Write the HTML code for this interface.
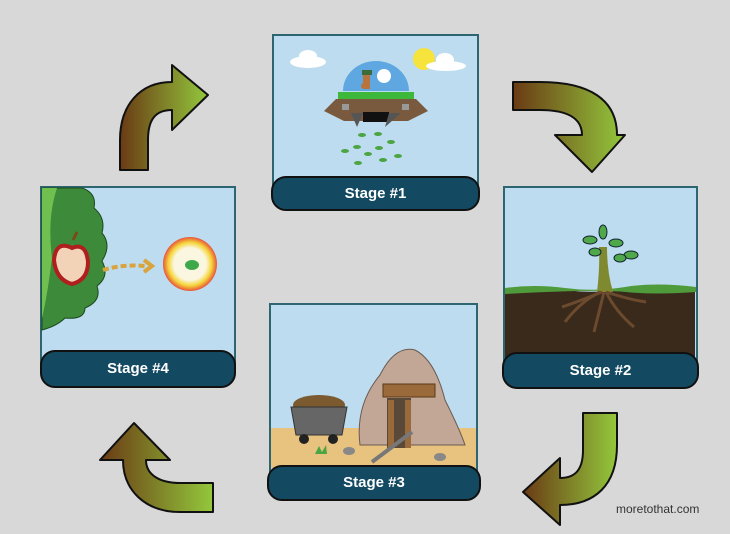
<!DOCTYPE html>
<html><head><meta charset="utf-8"><style>
html,body{margin:0;padding:0}
body{width:730px;height:534px;background:#d8d8d8;position:relative;overflow:hidden;font-family:"Liberation Sans",sans-serif}
.p{position:absolute;background:#bddcef;border:2px solid #2d6670;box-sizing:border-box}
.b{position:absolute;background:#134a62;border:2px solid #111;border-radius:15px;box-sizing:border-box;color:#fff;font-weight:bold;font-size:15px;text-align:center}
svg{position:absolute;left:0;top:0}
</style></head><body>
<div class="p" style="left:272px;top:34px;width:207px;height:160px"></div>
<div class="p" style="left:503px;top:186px;width:195px;height:185px"></div>
<div class="p" style="left:269px;top:303px;width:209px;height:180px"></div>
<div class="p" style="left:40px;top:186px;width:196px;height:185px"></div>
<svg width="730" height="534" viewBox="0 0 730 534">
<defs>
<linearGradient id="g" x1="0" y1="0" x2="1" y2="0"><stop offset="0" stop-color="#6a3a14"/><stop offset="1" stop-color="#93c83c"/></linearGradient>
<radialGradient id="sd" cx="0.5" cy="0.5" r="0.5"><stop offset="0.6" stop-color="#fbf6e0"/><stop offset="0.8" stop-color="#f5d63a"/><stop offset="1" stop-color="#e8543a"/></radialGradient>
</defs>
<!-- Stage 1 -->
<ellipse cx="308" cy="62" rx="18" ry="6" fill="#fff"/><ellipse cx="308" cy="56" rx="9" ry="6" fill="#fff"/>
<circle cx="424" cy="59" r="11" fill="#f6e33c"/>
<ellipse cx="446" cy="66" rx="20" ry="5" fill="#fff"/><ellipse cx="445" cy="60" rx="9" ry="7" fill="#fff"/>
<path d="M343,91 A33,30 0 0 1 409,91 Z" fill="#5fa7e0"/>
<rect x="362" y="70" width="10" height="5" fill="#3d6b3a"/>
<path d="M363,75 h7 v14 h-7 q-4,-3 0,-6 z" fill="#b8743c"/>
<circle cx="384" cy="76" r="7" fill="#fff"/>
<path d="M338,92 h76 v7 h-76z" fill="#3db83b"/>
<path d="M336,99 h80 l12,12 l-20,10 h-64 l-20,-10z" fill="#7a5a3e"/>
<rect x="342" y="104" width="7" height="6" fill="#999"/><rect x="402" y="104" width="7" height="6" fill="#999"/>
<path d="M363,112 h26 v10 h-26z" fill="#111"/>
<path d="M351,113 l12,0 l-6,14z M389,113 l12,0 l-16,14z" fill="#555"/>
<g fill="#4aa542">
<ellipse cx="362" cy="135" rx="4" ry="2"/><ellipse cx="378" cy="134" rx="4" ry="2"/><ellipse cx="391" cy="142" rx="4" ry="2"/>
<ellipse cx="357" cy="147" rx="4" ry="2"/><ellipse cx="379" cy="148" rx="4" ry="2"/><ellipse cx="345" cy="151" rx="4" ry="2"/>
<ellipse cx="368" cy="154" rx="4" ry="2"/><ellipse cx="398" cy="156" rx="4" ry="2"/><ellipse cx="383" cy="160" rx="4" ry="2"/><ellipse cx="358" cy="163" rx="4" ry="2"/>
</g>
<!-- Stage 2 -->
<path d="M505,290 q30,-4 60,0 t60,-1 t70,0 V372 H505Z" fill="#3a2a1c"/>
<path d="M505,288 q30,-4 60,0 t60,-1 t71,0 v5 q-40,3 -70,0 t-121,2z" fill="#4f9a3a"/>
<path d="M597,292 q3,-25 2,-45 l8,0 q0,25 6,45z" fill="#7f8a30"/>
<path d="M600,292 q-20,10 -35,30 M604,292 q-5,20 -10,40 M606,292 q10,20 28,35 M606,292 q25,8 40,10 M602,292 q-25,10 -40,15" stroke="#6b4a2e" stroke-width="3" fill="none"/>
<g fill="#4fa84a" stroke="#123" stroke-width="1"><ellipse cx="590" cy="240" rx="7" ry="4"/><ellipse cx="603" cy="232" rx="4" ry="7"/><ellipse cx="616" cy="243" rx="7" ry="4"/><ellipse cx="631" cy="255" rx="7" ry="4"/><ellipse cx="620" cy="258" rx="6" ry="4"/><ellipse cx="595" cy="252" rx="6" ry="4"/></g>
<!-- Stage 3 -->
<rect x="271" y="428" width="205" height="40" fill="#e8c27f"/>
<path d="M360,445 q-5,-40 20,-70 q15,-30 35,-25 q20,10 30,50 q15,30 20,45z" fill="#c2a797" stroke="#6b5a50" stroke-width="1"/>
<rect x="387" y="398" width="24" height="50" fill="#5a4838"/>
<rect x="388" y="400" width="6" height="48" fill="#9a6a3a"/><rect x="405" y="400" width="6" height="48" fill="#9a6a3a"/>
<rect x="383" y="384" width="52" height="13" fill="#9a6a3a" stroke="#5a3a1a"/>
<ellipse cx="319" cy="405" rx="26" ry="10" fill="#7a5a2e"/>
<path d="M291,407 h56 l-5,28 h-46z" fill="#666" stroke="#333"/>
<circle cx="304" cy="439" r="5" fill="#222"/><circle cx="333" cy="439" r="5" fill="#222"/>
<path d="M372,462 l40,-30" stroke="#777" stroke-width="4"/>
<ellipse cx="349" cy="451" rx="6" ry="4" fill="#888"/><ellipse cx="440" cy="457" rx="6" ry="4" fill="#888"/>
<path d="M315,454 l4,-8 l3,6 l4,-7 l1,9z" fill="#4aa542"/>
<!-- Stage 4 -->
<path d="M42,188 h40 q15,5 12,20 q12,10 8,25 q10,12 0,28 q8,15 -5,25 q5,15 -12,22 q0,12 -20,10 q-8,8 -23,12z" fill="#3c8a3a" stroke="#1c4a1c"/>
<path d="M42,188 h15 q-10,30 -5,70 q-5,40 -10,60z" fill="#6fc04f"/>
<path d="M73,240 l4,-8" stroke="#7a4a1a" stroke-width="3"/>
<path d="M72,248 q-16,-8 -18,12 q2,20 18,24 q16,-4 16,-22 q-2,-20 -16,-14z" fill="#f3d3b8" stroke="#b01e1e" stroke-width="4"/>
<path d="M103,270 q20,-6 42,-4" stroke="#d9a43c" stroke-width="4" stroke-dasharray="6,3" fill="none"/>
<path d="M144,260 l8,6 l-8,6" stroke="#d9a43c" stroke-width="4" fill="none"/>
<circle cx="190" cy="264" r="27" fill="url(#sd)"/>
<ellipse cx="192" cy="265" rx="7" ry="5" fill="#3fa84a"/>
<!-- arrows -->
<g fill="url(#g)" stroke="#111" stroke-width="2" stroke-linejoin="round">
<path d="M513,82 L540,82 C590,82 617,100 617,135 L625,135 L592,172 L555,135 L582,135 C582,120 570,110 540,110 L513,110 Z"/>
<path d="M583,413 L617,413 L617,445 C617,485 595,505 560,505 L560,525 L523,492 L560,458 L560,478 C575,478 583,470 583,450 Z"/>
<path d="M213,483 L213,512 L180,512 C145,512 123,490 123,460 L100,460 L134,423 L170,460 L146,460 C146,475 160,483 180,483 Z"/>
<path d="M120,170 L148,170 L148,140 C148,120 155,110 172,110 L172,130 L208,95 L172,65 L172,82 C140,82 120,105 120,140 Z"/>
</g>
</svg>
<div class="b" style="left:271px;top:176px;width:209px;height:35px;line-height:31px">Stage #1</div>
<div class="b" style="left:502px;top:352px;width:197px;height:37px;line-height:33px">Stage #2</div>
<div class="b" style="left:267px;top:465px;width:214px;height:36px;line-height:32px">Stage #3</div>
<div class="b" style="left:40px;top:350px;width:196px;height:38px;line-height:34px">Stage #4</div>
<div style="position:absolute;left:616px;top:502px;font-size:12px;color:#333">moretothat.com</div>
</body></html>
